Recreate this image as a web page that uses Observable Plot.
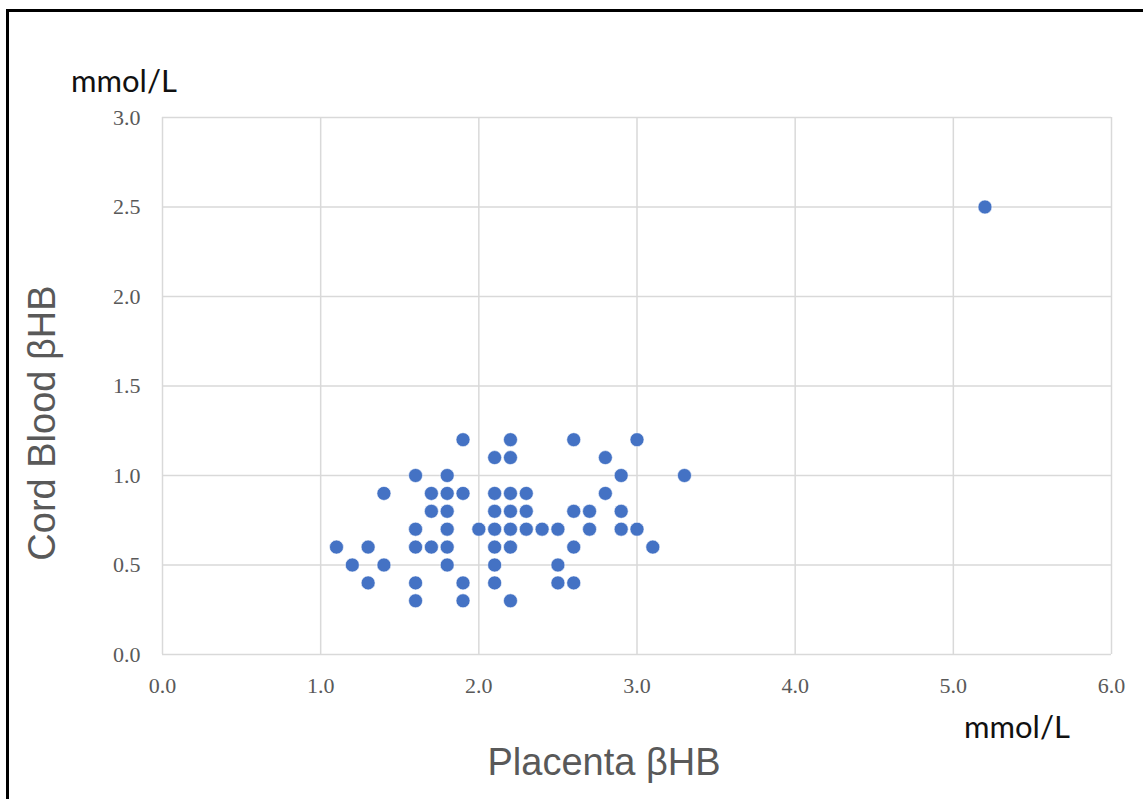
<!DOCTYPE html>
<html>
<head>
<meta charset="utf-8">
<script src="https://cdn.jsdelivr.net/npm/d3@7"></script>
<script src="https://cdn.jsdelivr.net/npm/@observablehq/plot@0.6"></script>
<style>
  html, body { margin: 0; padding: 0; background: #fff; }
  #wrap { position: relative; width: 1143px; height: 799px; overflow: hidden; }
  #border { position: absolute; left: 6px; top: 9px; width: 1200px; height: 900px;
            border-left: 3px solid #000; border-top: 3px solid #000; box-sizing: border-box; }
  .lbl { position: absolute; white-space: nowrap; }
  .axtitle { font-family: "Liberation Sans", Arial, sans-serif; font-size: 38px; color: #595959; }
  .unit { font-family: "Lato", "Noto Sans", sans-serif; font-size: 31px; color: #111; }
</style>
</head>
<body>
<div id="wrap">
  <div id="chart"></div>
  <div id="border"></div>
  <div class="lbl unit" id="unitY">mmol/L</div>
  <div class="lbl unit" id="unitX">mmol/L</div>
  <div class="lbl axtitle" id="titleX">Placenta βHB</div>
  <div class="lbl axtitle" id="titleY">Cord Blood βHB</div>
</div>
<script>
// Placenta βHB (mmol/L)
const placenta = [
  1.1, 1.2, 1.3, 1.3, 1.4, 1.4,
  1.6, 1.6, 1.6, 1.6, 1.6,
  1.7, 1.7, 1.7,
  1.8, 1.8, 1.8, 1.8, 1.8, 1.8,
  1.9, 1.9, 1.9, 1.9,
  2.0,
  2.1, 2.1, 2.1, 2.1, 2.1, 2.1, 2.1,
  2.2, 2.2, 2.2, 2.2, 2.2, 2.2, 2.2,
  2.3, 2.3, 2.3,
  2.4,
  2.5, 2.5, 2.5,
  2.6, 2.6, 2.6, 2.6,
  2.7, 2.7,
  2.8, 2.8,
  2.9, 2.9, 2.9,
  3.0, 3.0,
  3.1,
  3.3,
  5.2
];
// Cord Blood βHB (mmol/L)
const cord = [
  0.6, 0.5, 0.6, 0.4, 0.9, 0.5,
  1.0, 0.7, 0.6, 0.4, 0.3,
  0.9, 0.8, 0.6,
  1.0, 0.9, 0.8, 0.7, 0.6, 0.5,
  1.2, 0.9, 0.4, 0.3,
  0.7,
  1.1, 0.9, 0.8, 0.7, 0.6, 0.5, 0.4,
  1.2, 1.1, 0.9, 0.8, 0.7, 0.6, 0.3,
  0.9, 0.8, 0.7,
  0.7,
  0.7, 0.5, 0.4,
  1.2, 0.8, 0.6, 0.4,
  0.8, 0.7,
  1.1, 0.9,
  1.0, 0.8, 0.7,
  1.2, 0.7,
  0.6,
  1.0,
  2.5
];
const xTicks = [0, 1, 2, 3, 4, 5, 6];
const yTicks = [0, 0.5, 1, 1.5, 2, 2.5, 3];

const data = placenta.map((p, i) => ({placenta: p, cord: cord[i]}));
const fmt = d3.format(".1f");
const tickFont = "Liberation Serif, 'Times New Roman', serif";

const chart = Plot.plot({
  width: 1143,
  height: 799,
  marginLeft: 162,
  marginRight: 32,
  marginTop: 117,
  marginBottom: 145,
  style: {background: "transparent", overflow: "visible"},
  x: {domain: [0, 6]},
  y: {domain: [0, 3]},
  marks: [
    Plot.gridX(xTicks, {stroke: "#d9d9d9", strokeOpacity: 1, strokeWidth: 1.5}),
    Plot.gridY(yTicks, {stroke: "#d9d9d9", strokeOpacity: 1, strokeWidth: 1.5}),
    Plot.axisX(xTicks, {tickSize: 0, tickPadding: 23, tickFormat: fmt, label: null,
      fontSize: 22, fontFamily: tickFont, fill: "#595959"}),
    Plot.axisY(yTicks, {tickSize: 0, tickPadding: 22, tickFormat: fmt, label: null,
      fontSize: 22, fontFamily: tickFont, fill: "#595959"}),
    Plot.dot(data, {x: "placenta", y: "cord", r: 7, fill: "#4472C4", stroke: "#ffffff", strokeWidth: 0.6})
  ]
});
document.getElementById("chart").appendChild(chart);

// Position overlay labels
function place(id, left, top) {
  const el = document.getElementById(id);
  el.style.left = left + "px";
  el.style.top = top + "px";
}
place("unitY", 71, 61);
place("unitX", 964, 707);
const tx = document.getElementById("titleX");
tx.style.left = "604px"; tx.style.top = "741px"; tx.style.transform = "translateX(-50%)";
const ty = document.getElementById("titleY");
ty.style.left = "21px"; ty.style.top = "423px";
ty.style.transformOrigin = "0 0";
ty.style.transform = "rotate(-90deg) translate(-50%, 0)";
</script>
</body>
</html>
